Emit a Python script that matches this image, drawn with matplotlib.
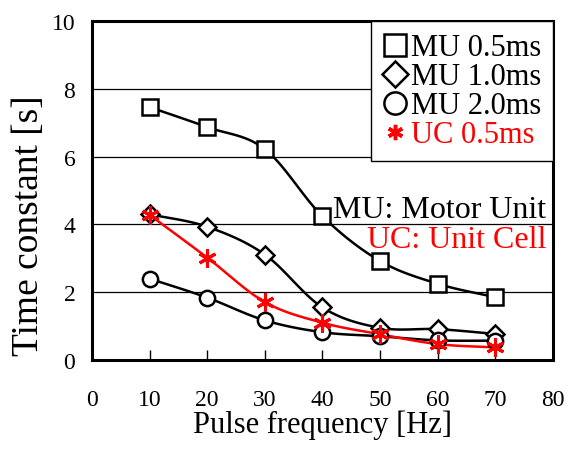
import numpy as np
import matplotlib.pyplot as plt
from matplotlib.lines import Line2D

plt.rcParams['font.family'] = ['Liberation Serif', 'DejaVu Serif']

freq = [10, 20, 30, 40, 50, 60, 70]
mu_05 = [7.46, 6.87, 6.22, 4.24, 2.92, 2.25, 1.85]
mu_10 = [4.30, 3.93, 3.11, 1.55, 0.95, 0.91, 0.77]
mu_20 = [2.40, 1.84, 1.17, 0.82, 0.70, 0.58, 0.57]
uc_05 = [4.28, 3.02, 1.71, 1.10, 0.76, 0.47, 0.37]


def smooth(x, y, n=20):
    # Catmull-Rom curve through the points, like a smoothed line in a spreadsheet
    x = np.asarray(x, float)
    y = np.asarray(y, float)
    px = np.concatenate([[2 * x[0] - x[1]], x, [2 * x[-1] - x[-2]]])
    py = np.concatenate([[2 * y[0] - y[1]], y, [2 * y[-1] - y[-2]]])
    xs, ys = [], []
    t = np.linspace(0, 1, n)
    for i in range(1, len(px) - 2):
        for p, out in ((px, xs), (py, ys)):
            p0, p1, p2, p3 = p[i - 1], p[i], p[i + 1], p[i + 2]
            out.extend(0.5 * ((2 * p1) + (-p0 + p2) * t
                              + (2 * p0 - 5 * p1 + 4 * p2 - p3) * t ** 2
                              + (-p0 + 3 * p1 - 3 * p2 + p3) * t ** 3))
    return xs, ys


fig = plt.figure(figsize=(5.66, 4.52), dpi=100)
ax = fig.add_axes([0.1625, 0.2013, 0.8145, 0.75])

series = [
    (mu_05, "black", "s", 11, "MU 0.5ms"),
    (mu_10, "black", "D", 9, "MU 1.0ms"),
    (mu_20, "black", "o", 11, "MU 2.0ms"),
    (uc_05, "red", (6, 2, 0), 13, "UC 0.5ms"),
]

for y, c, m, ms, lab in series:
    sx, sy = smooth(freq, y)
    ax.plot(sx, sy, color=c, lw=1.8, zorder=3)
    if c == "red":
        ax.plot(freq, y, ls="none", marker=m, ms=ms, mec=c, mew=2.2, zorder=5)
    else:
        ax.plot(freq, y, ls="none", marker=m, ms=ms, mfc="white", mec=c,
                mew=1.8, zorder=4)

ax.set_xlim(0, 80)
ax.set_ylim(0, 10)
ax.set_xticks(range(0, 81, 10))
ax.set_yticks(range(0, 11, 2))
ax.yaxis.grid(True, color="black", lw=0.9)
ax.set_axisbelow(True)
ax.tick_params(axis="x", direction="in", length=7, width=1, labelsize=17, pad=21)
ax.tick_params(axis="y", length=0, labelsize=17, pad=12)
for s in ax.spines.values():
    s.set_linewidth(2.2)

ax.set_xlabel("Pulse frequency [Hz]", fontsize=22)
ax.xaxis.set_label_coords(0.5, -0.145)
ax.set_ylabel("Time constant [s]", fontsize=27)
ax.yaxis.set_label_coords(-0.10, 0.40)

handles = [
    Line2D([], [], ls="none", marker="s", ms=16, mfc="white", mec="black", mew=1.8),
    Line2D([], [], ls="none", marker="D", ms=13, mfc="white", mec="black", mew=1.8),
    Line2D([], [], ls="none", marker="o", ms=16, mfc="white", mec="black", mew=1.8),
    Line2D([], [], ls="none", marker=(6, 2, 0), ms=11, mec="red", mew=2.5),
]
leg = ax.legend(handles, [s[4] for s in series], loc="upper right",
                bbox_to_anchor=(1, 1), borderaxespad=0, fontsize=22,
                handlelength=0.8, handletextpad=0.1, labelspacing=0.0,
                borderpad=0.4, fancybox=False, framealpha=1, edgecolor="black")
leg.get_frame().set_linewidth(1.0)
leg.set_zorder(6)
for txt, s in zip(leg.get_texts(), series):
    txt.set_color(s[1])

ax.text(0.985, 0.422, "MU: Motor Unit", transform=ax.transAxes, ha="right",
        va="baseline", fontsize=23, color="black", zorder=6)
ax.text(0.985, 0.334, "UC: Unit Cell", transform=ax.transAxes, ha="right",
        va="baseline", fontsize=23, color="red", zorder=6)

fig.savefig("out.png", dpi=100)
